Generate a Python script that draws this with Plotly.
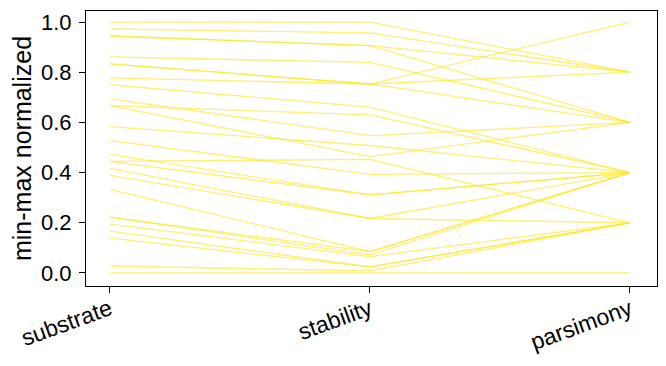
import plotly.graph_objects as go

axes_names = ["substrate", "stability", "parsimony"]

# min-max normalized values for each record (one line per record)
substrate = [36/36, 35/36, 34/36, 34/36, 31/36, 30/36, 30/36, 28/36, 27/36, 25/36,
             24/36, 24/36, 21/36, 19/36, 17/36, 16/36, 16/36, 15/36, 14/36, 12/36,
             8/36, 8/36, 7/36, 6/36, 5/36, 1/36, 0.0]
stability = [1.0, 0.957, 0.906, 0.906, 0.839, 0.753, 0.753, 0.753, 0.661, 0.547,
             0.63, 0.464, 0.508, 0.393, 0.311, 0.453, 0.311, 0.217, 0.217, 0.085,
             0.085, 0.072, 0.065, 0.024, 0.024, 0.008, 0.0]
parsimony = [0.8, 0.8, 0.8, 0.6, 0.6, 1.0, 0.8, 0.6, 0.4, 0.6,
             0.4, 0.6, 0.4, 0.4, 0.4, 0.2, 0.4, 0.4, 0.2, 0.4,
             0.4, 0.4, 0.2, 0.2, 0.2, 0.2, 0.0]

fig = go.Figure()
for s, st, p in zip(substrate, stability, parsimony):
    fig.add_trace(go.Scatter(
        x=[0, 1, 2], y=[s, st, p], mode="lines",
        line=dict(color="rgba(253,231,37,0.65)", width=1.3),
        showlegend=False, hoverinfo="skip"))

font = dict(family="Liberation Sans, Arial, sans-serif", size=22, color="black")
fig.update_layout(
    width=666, height=366,
    margin=dict(l=86, r=9, t=11, b=80),
    plot_bgcolor="white", paper_bgcolor="white",
    font=font,
)
fig.update_xaxes(
    range=[-0.092, 2.104], tickvals=[0, 1, 2], ticktext=axes_names,
    tickangle=-20, showgrid=False, zeroline=False,
    showline=True, mirror=True, linecolor="black", linewidth=1.2,
    ticks="outside", ticklen=6, tickwidth=1, tickcolor="black",
    tickfont=dict(size=23), ticklabelstandoff=-6,
)
fig.update_yaxes(
    range=[-0.052, 1.044], tickvals=[0, 0.2, 0.4, 0.6, 0.8, 1.0], tickformat=".1f",
    showgrid=False, zeroline=False,
    showline=True, mirror=True, linecolor="black", linewidth=1.2,
    ticks="outside", ticklen=6, tickwidth=1, tickcolor="black",
    tickfont=dict(size=22), ticklabelstandoff=3,
    title=dict(text="min-max normalized", font=dict(size=25), standoff=2),
)
fig.write_html("out.html")
